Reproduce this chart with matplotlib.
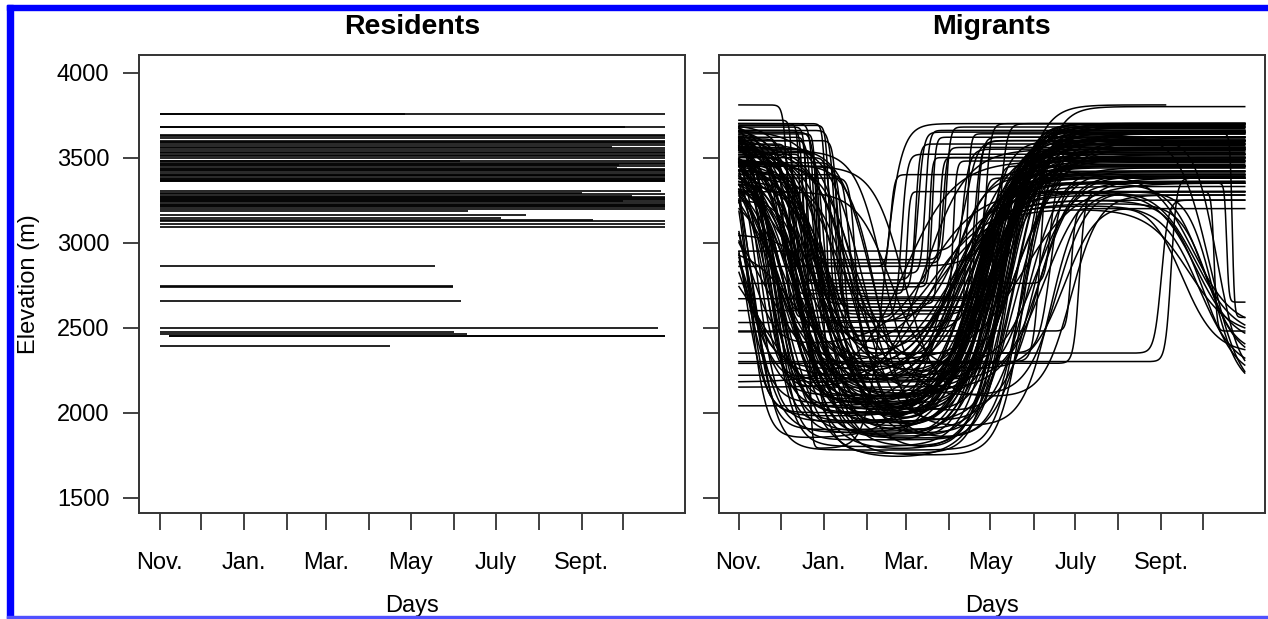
import numpy as np
import matplotlib
matplotlib.use("Agg")
import matplotlib.pyplot as plt
from matplotlib.patches import Rectangle

plt.rcParams['font.family'] = ['Liberation Sans', 'DejaVu Sans']

# ---------------- axis labelling ----------------
month_start_days = [1, 31, 62, 93, 121, 152, 182, 213, 243, 274, 305, 335]
month_labels = ["Nov.", "", "Jan.", "", "Mar.", "", "May", "", "July", "", "Sept.", ""]
elev_ticks = [1500, 2000, 2500, 3000, 3500, 4000]

# ---------------- residents: constant elevation per animal ----------------
res_elev = [3757, 3757, 3682, 3680, 3633, 3628, 3615, 3600, 3592, 3585,
            3573, 3565, 3555, 3547, 3535, 3525, 3516, 3508, 3495, 3480,
            3478, 3470, 3462, 3455, 3448, 3440, 3435, 3427, 3420, 3410,
            3400, 3395, 3390, 3380, 3375, 3370, 3365, 3360, 3304, 3292,
            3285, 3272, 3268, 3262, 3255, 3250, 3245, 3238, 3230, 3222,
            3218, 3212, 3200, 3188, 3165, 3143, 3136, 3128, 3108, 3094,
            2862, 2742, 2737, 2658, 2500, 2472, 2462, 2452, 2448, 2392]
res_first_day = [1] * 67 + [8, 8, 1]
res_last_day = [178, 365, 336, 365, 365, 365, 365, 365, 365, 365,
                365, 327, 365, 365, 365, 365, 365, 365, 365, 217,
                365, 365, 365, 332, 365, 330, 365, 365, 365, 365,
                365, 365, 365, 365, 365, 365, 365, 365, 362, 305,
                365, 341, 365, 365, 365, 365, 335, 365, 365, 365,
                365, 365, 365, 223, 265, 247, 313, 365, 365, 365,
                199, 212, 212, 218, 360, 213, 222, 365, 365, 167]

# ---------------- migrants: per-animal fitted seasonal tracks ----------------
# elevation on day 1, winter elevation, summer elevation
mig_start = [3650, 3600, 3550, 3700, 3480, 3420, 3380, 3620, 3560, 3500,
             3450, 3680, 3700, 3350, 3600, 3530, 3470, 3400, 3640, 3580,
             3780, 3520, 3440, 3690, 3610, 3360, 3300, 3570, 3490, 3660,
             3410, 3550, 3630, 3700, 3460, 3390, 3590, 3510, 3680, 3330,
             3620, 3250, 3540, 3430, 3670, 3600, 3480, 3370, 3710, 3560,
             3150, 3050, 3500, 3640, 3420, 3580, 3690, 3320, 3460, 3600,
             3700, 3650, 3580, 3520, 3460, 3400, 3350, 3300, 3100, 2980,
             3680, 3620, 3560, 3500, 3440, 3380, 3720, 3600, 3540, 3480,
             3660, 3590, 3530, 3470, 3410, 3690, 3630, 3570, 3510, 3450,
             3700, 3650, 3600, 3550, 3680, 3500, 3620, 3450, 3720, 3580,
             3400, 3660,
             3810, 3700, 3650, 3600, 3720, 3550, 3680, 3500, 3620, 3450,
             3700, 3580, 3400, 3660, 3530, 3610, 3690, 3470, 3560, 3640,
             3380, 3600, 3700, 3520, 3660,
             2040, 2150, 2220, 2300, 2350, 2475, 2530, 2600, 2670, 2760,
             2860, 2950, 2290, 2480, 2180]
mig_winter = [1950, 2050, 1820, 2150, 2000, 1900, 2250, 2100, 1780, 2020,
              2300, 1880, 2080, 1960, 2200, 1850, 2120, 2040, 1760, 1990,
              2180, 1920, 2070, 2350, 1870, 2010, 2260, 1800, 2140, 1930,
              2060, 2220, 1840, 1980, 2110, 2030, 1750, 2170, 1910, 2280,
              2090, 1860, 2000, 2320, 1940, 2130, 1820, 2050, 2190, 1970,
              2400, 2240, 1890, 2020, 2160, 1800, 2080, 1940, 2110, 2210,
              1730, 1850, 2000, 2180, 1920, 2080, 1800, 2250, 2020, 2300,
              1900, 1780, 2130, 1960, 2220, 1840, 2050, 1880, 2100, 1990,
              2270, 1820, 2060, 1940, 2150, 1870, 2010, 2190, 1760, 2090,
              1980, 2100, 1850, 2220, 1900, 2050, 1780, 2150, 2000, 1880,
              2250, 1950,
              2860, 2780, 2640, 2580, 2700, 2500, 2880, 2620, 1790, 2450,
              2740, 2560, 2680, 2820, 2300, 2600, 2660, 2420, 2720, 2540,
              2350, 2900, 2480, 2760, 2620,
              2040, 2150, 2220, 2300, 2350, 2475, 2530, 2600, 2670, 2760,
              2860, 2950, 2290, 2480, 2180]
mig_summer = [3550, 3620, 3480, 3700, 3400, 3650, 3350, 3580, 3600, 3450,
              3300, 3680, 3520, 3420, 3640, 3560, 3250, 3500, 3700, 3610,
              3810, 3380, 3540, 3200, 3660, 3470, 3330, 3590, 3280, 3630,
              3510, 3360, 3690, 3570, 3440, 3600, 3800, 3390, 3650, 3230,
              3530, 3670, 3460, 3220, 3600, 3700, 3410, 3490, 3640, 3550,
              3300, 3620, 3580, 3520, 3350, 3690, 3450, 3610, 3700, 3400,
              3600, 3500, 3400, 3650, 3300, 3550, 3700, 3250, 3450, 3350,
              3620, 3680, 3380, 3520, 3580, 3420, 3660, 3480, 3320, 3560,
              3360, 3700, 3540, 3440, 3600, 3640, 3500, 3390, 3620, 3280,
              3500, 3620, 3380, 3680, 3450, 3560, 3700, 3300, 3600, 3420,
              3250, 3650,
              3400, 3650, 3500, 3600, 3300, 3550, 3680, 3450, 3700, 3380,
              3620, 3520, 3350, 3660, 3600, 3480, 3700, 3420, 3580, 3640,
              3350, 3560, 3700, 3500, 3620,
              3400, 3550, 3300, 3380, 3250, 3600, 3450, 3520, 3650, 3350,
              3500, 3600, 3300, 3200, 3480]
# day of downhill move and its duration scale (days)
mig_leave_day = [25, 40, 55, 18, 30, 62, 45, 35, 70, 22,
                 50, 28, 38, 65, 15, 42, 58, 33, 48, 26,
                 20, 75, 36, 52, 44, 68, 30, 24, 60, 46,
                 34, 80, 27, 40, 56, 21, 50, 64, 32, 43,
                 38, 54, 29, 72, 23, 47, 85, 35, 41, 59,
                 12, 66, 31, 49, 37, 57, 26, 45, 39, 53,
                 30, 45, 90, 60, 100, 20, 75, 110, 15, 40,
                 55, 35, 95, 70, 25, 85, 50, 65, 105, 42,
                 80, 58, 28, 88, 48, 62, 38, 78, 52, 120,
                 3, 6, 8, 2, 10, 5, 12, 4, 7, 9,
                 1, 14,
                 36, 45, 58, 72, 40, 62, 50, 68, 51, 76,
                 55, 38, 80, 47, 60, 33, 66, 74, 42, 57,
                 85, 53, 64, 48, 70,
                 1, 1, 1, 1, 1, 1, 1, 1, 1, 1,
                 1, 1, 1, 1, 1]
mig_leave_width = [8, 12, 10, 6, 14, 9, 11, 7, 13, 10,
                   15, 8, 9, 12, 6, 11, 10, 14, 8, 9,
                   7, 12, 16, 10, 9, 11, 13, 8, 10, 12,
                   9, 14, 7, 11, 10, 8, 12, 9, 15, 10,
                   11, 9, 8, 13, 7, 10, 12, 9, 11, 10,
                   8, 14, 9, 10, 12, 11, 8, 10, 13, 9,
                   15, 20, 12, 18, 10, 22, 14, 12, 20, 16,
                   18, 14, 11, 20, 15, 13, 22, 16, 10, 18,
                   14, 20, 16, 12, 19, 15, 21, 13, 17, 11,
                   8, 10, 6, 12, 7, 9, 8, 11, 6, 10,
                   12, 7,
                   1.5, 1, 2, 1.5, 1, 2.5, 1.2, 1.8, 1, 2,
                   1.5, 1.2, 2, 1, 1.5, 1.8, 1.2, 2, 1.5, 1,
                   2, 1.5, 1.2, 1, 1.8,
                   1, 1, 1, 1, 1, 1, 1, 1, 1, 1,
                   1, 1, 1, 1, 1]
# day of uphill move and its duration scale (days)
mig_return_day = [175, 185, 165, 192, 170, 200, 155, 180, 188, 172,
                  160, 195, 178, 168, 183, 205, 150, 176, 190, 186,
                  198, 162, 174, 145, 182, 193, 171, 187, 158, 179,
                  184, 166, 196, 173, 189, 177, 208, 163, 181, 152,
                  176, 191, 169, 140, 185, 194, 180, 167, 199, 174,
                  138, 212, 186, 178, 164, 190, 182, 170, 196, 157,
                  200, 175, 215, 190, 225, 160, 185, 235, 170, 205,
                  182, 195, 220, 178, 165, 210, 188, 172, 230, 198,
                  215, 180, 168, 208, 192, 186, 176, 218, 194, 240,
                  170, 185, 150, 195, 178, 162, 205, 140, 188, 175,
                  155, 200,
                  110, 130, 145, 170, 122, 160, 150, 185, 105, 175,
                  140, 118, 200, 135, 218, 155, 178, 192, 128, 165,
                  225, 148, 188, 138, 172,
                  150, 135, 170, 312, 305, 180, 160, 195, 200, 225,
                  190, 165, 246, 240, 120]
mig_return_width = [12, 10, 15, 9, 14, 11, 16, 12, 10, 13,
                    18, 9, 12, 14, 11, 10, 17, 13, 9, 12,
                    10, 15, 13, 19, 11, 10, 14, 12, 16, 11,
                    13, 15, 9, 12, 10, 14, 9, 16, 12, 18,
                    11, 10, 13, 20, 12, 9, 11, 14, 10, 12,
                    18, 9, 11, 13, 15, 10, 12, 14, 9, 16,
                    15, 20, 12, 18, 10, 22, 16, 12, 14, 20,
                    18, 13, 15, 20, 16, 12, 22, 14, 11, 17,
                    13, 19, 15, 12, 20, 16, 18, 12, 21, 10,
                    14, 11, 16, 10, 13, 18, 9, 20, 12, 15,
                    17, 11,
                    1.5, 2, 1.2, 2.5, 1, 3, 1.5, 2, 6, 1.8,
                    1.2, 2, 3, 1.5, 2.5, 1.2, 2, 3, 1.5, 1.2,
                    4, 1.5, 2.5, 1, 2,
                    12, 15, 10, 2, 2.5, 8, 12, 3, 6, 2,
                    10, 4, 2, 1.5, 18]
# autumn downhill move (0 = none): day, duration scale, final elevation
mig_fall_day = [0, 0, 0, 0, 0, 0, 0, 0, 0, 0,
                330, 0, 0, 0, 0, 0, 335, 0, 0, 0,
                0, 0, 0, 325, 0, 0, 0, 0, 0, 340,
                0, 0, 0, 0, 0, 0, 0, 0, 0, 338,
                0, 0, 0, 332, 0, 0, 0, 0, 0, 0,
                342, 0, 0, 0, 336, 0, 0, 345, 0, 328,
                0, 0, 0, 0, 0, 0, 0, 320, 0, 0,
                0, 0, 0, 0, 0, 0, 0, 0, 330, 0,
                0, 0, 0, 0, 0, 0, 0, 0, 0, 0,
                0, 0, 0, 0, 0, 0, 0, 0, 0, 0,
                0, 0,
                0, 0, 0, 0, 343, 0, 0, 0, 0, 0,
                0, 0, 352, 0, 0, 0, 0, 0, 0, 356,
                0, 0, 0, 0, 0,
                0, 0, 0, 0, 0, 0, 0, 0, 0, 0,
                0, 0, 0, 0, 0]
mig_fall_width = [0, 0, 0, 0, 0, 0, 0, 0, 0, 0,
                  14, 0, 0, 0, 0, 0, 12, 0, 0, 0,
                  0, 0, 0, 15, 0, 0, 0, 0, 0, 11,
                  0, 0, 0, 0, 0, 0, 0, 0, 0, 10,
                  0, 0, 0, 13, 0, 0, 0, 0, 0, 0,
                  9, 0, 0, 0, 12, 0, 0, 8, 0, 14,
                  0, 0, 0, 0, 0, 0, 0, 12, 0, 0,
                  0, 0, 0, 0, 0, 0, 0, 0, 14, 0,
                  0, 0, 0, 0, 0, 0, 0, 0, 0, 0,
                  0, 0, 0, 0, 0, 0, 0, 0, 0, 0,
                  0, 0,
                  0, 0, 0, 0, 1, 0, 0, 0, 0, 0,
                  0, 0, 0.8, 0, 0, 0, 0, 0, 0, 0.8,
                  0, 0, 0, 0, 0,
                  0, 0, 0, 0, 0, 0, 0, 0, 0, 0,
                  0, 0, 0, 0, 0]
mig_fall_elev = [0, 0, 0, 0, 0, 0, 0, 0, 0, 0,
                 2400, 0, 0, 0, 0, 0, 2200, 0, 0, 0,
                 0, 0, 0, 2450, 0, 0, 0, 0, 0, 2100,
                 0, 0, 0, 0, 0, 0, 0, 0, 0, 2350,
                 0, 0, 0, 2250, 0, 0, 0, 0, 0, 0,
                 2150, 0, 0, 0, 2300, 0, 0, 2200, 0, 2500,
                 0, 0, 0, 0, 0, 0, 0, 2350, 0, 0,
                 0, 0, 0, 0, 0, 0, 0, 0, 2450, 0,
                 0, 0, 0, 0, 0, 0, 0, 0, 0, 0,
                 0, 0, 0, 0, 0, 0, 0, 0, 0, 0,
                 0, 0,
                 0, 0, 0, 0, 2480, 0, 0, 0, 0, 0,
                 0, 0, 2650, 0, 0, 0, 0, 0, 0, 2560,
                 0, 0, 0, 0, 0,
                 0, 0, 0, 0, 0, 0, 0, 0, 0, 0,
                 0, 0, 0, 0, 0]
mig_last_day = [365] * len(mig_start)
mig_last_day[20] = 308


def logistic(z):
    return 1.0 / (1.0 + np.exp(-np.clip(z, -60, 60)))


def track(days, i):
    y = (mig_start[i]
         + (mig_winter[i] - mig_start[i]) * logistic((days - mig_leave_day[i]) / mig_leave_width[i])
         + (mig_summer[i] - mig_winter[i]) * logistic((days - mig_return_day[i]) / mig_return_width[i]))
    if mig_fall_day[i] > 0:
        y = y + (mig_fall_elev[i] - mig_summer[i]) * logistic((days - mig_fall_day[i]) / mig_fall_width[i])
    return y


# ---------------- figure ----------------
fig = plt.figure(figsize=(12.68, 6.19), dpi=100)
ax_res = fig.add_axes([0.1099, 0.1708, 0.4306, 0.7399])
ax_mig = fig.add_axes([0.5668, 0.1708, 0.4308, 0.7399])

for e, d0, d1 in zip(res_elev, res_first_day, res_last_day):
    ax_res.plot([d0, d1], [e, e], color="black", lw=1.2, solid_capstyle="butt")

for i in range(len(mig_start)):
    days = np.linspace(1, mig_last_day[i], 1500)
    ax_mig.plot(days, track(days, i), color="black", lw=1.1)

for ax, title in [(ax_res, "Residents"), (ax_mig, "Migrants")]:
    ax.set_xlim(-13.56, 379.56)
    ax.set_ylim(1408, 4102)
    ax.set_xticks(month_start_days)
    ax.set_xticklabels(month_labels)
    ax.set_yticks(elev_ticks)
    ax.tick_params(axis="x", length=12, width=1.3, pad=16, labelsize=17, color="#333333")
    ax.tick_params(axis="y", length=11.5, width=1.3, pad=10, labelsize=17, color="#333333")
    for sp in ax.spines.values():
        sp.set_linewidth(1.4)
        sp.set_color("#333333")
    ax.set_xlabel("Days", fontsize=17, labelpad=15)
    ax.text(0.5, 1.0 + 28 / 458, title, transform=ax.transAxes, ha="center", va="center",
            fontsize=20.5, fontweight="bold")

ax_res.set_ylabel("Elevation (m)", fontsize=17, labelpad=12)
ax_mig.set_yticklabels([])

# frame strips along the page edges
fig.patches.append(Rectangle((7.3 / 1268, 0), 5.4 / 1268, 1 - 4.7 / 619,
                             transform=fig.transFigure, color="#0000ff", zorder=10))
fig.patches.append(Rectangle((7.3 / 1268, 1 - 10 / 619), 1 - 7.3 / 1268, 5.3 / 619,
                             transform=fig.transFigure, color="#0000ff", zorder=10))
fig.patches.append(Rectangle((7.3 / 1268, 1 / 619), 1 - 7.3 / 1268, 1.6 / 619,
                             transform=fig.transFigure, color="#5050ff", zorder=10))

fig.savefig("out.png", dpi=100)
